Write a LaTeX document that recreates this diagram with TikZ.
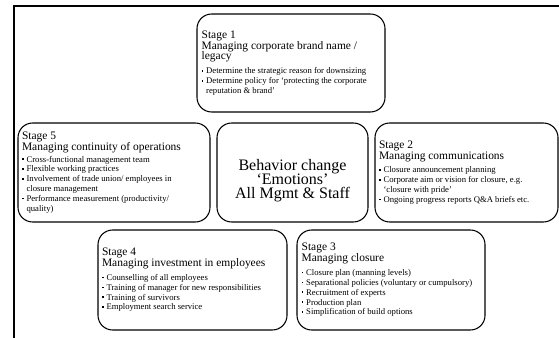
\documentclass[tikz,border=0pt]{standalone}
\usepackage{fontspec}
\setmainfont{Liberation Serif}
\usepackage{graphicx}

% text sizes used in the stage boxes
\newcommand\ttl{\fontsize{8.6}{8.1}\selectfont}
\newcommand\blt{\fontsize{6.5}{7.4}\selectfont}
\newlength\bw
\setlength\bw{3.4pt}
\newcommand\bmark{\makebox[\bw][l]{\raisebox{1.5pt}{\rule{1.3pt}{1.3pt}}}}
% a one-line bullet point
\newcommand\itm[1]{\par\noindent\bmark\mbox{#1}}
% a bullet point running over two lines, the second one indented
\newcommand\itmm[2]{\par\hangindent=\bw\hangafter=1\noindent\bmark\mbox{#1}\newline\mbox{#2}}

\begin{document}
\begin{tikzpicture}[x=0.75pt,y=-0.75pt,
  stagebox/.style={draw, line width=0.8pt, rounded corners=11pt,
    inner xsep=3.5pt, inner ysep=0pt, align=flush left, anchor=center},
  corebox/.style={draw, line width=0.8pt, rounded corners=11pt,
    inner sep=0pt, anchor=center},
  coretext/.style={align=center, inner sep=0pt,
    font=\fontsize{12}{10.6}\selectfont}]

\useasboundingbox (0,0) rectangle (559,338);

% slide frame
\draw[gray!55, line width=2.2pt] (14,338) -- (14,6) -- (559,6);
\draw[black, line width=1.1pt] (14,338) -- (14,6) -- (559,6);

% Stage 1
\node[stagebox, text width=134pt, minimum height=73.5pt] (s1) at (291,63)
 {\ttl Stage 1\\Managing corporate brand name /\\legacy\par
  \blt\vspace{3pt}%
  \itm{Determine the strategic reason for downsizing}
  \itmm{Determine policy for ‘protecting the corporate}{reputation \& brand’}\par};

% Stage 5
\node[stagebox, inner xsep=3pt, text width=138pt, minimum height=74.25pt] (s5) at (114,172.5)
 {\ttl Stage 5\\Managing continuity of operations\par
  \blt\vspace{1.5pt}%
  \itm{Cross-functional management team}
  \itm{Flexible working practices}
  \itmm{Involvement of trade union/ employees in}{closure management}
  \itmm{Performance measurement (productivity/}{quality)}\par};

% centre
\node[corebox, minimum width=113.25pt, minimum height=74.25pt] (core) at (292.5,172.5) {};
\node[coretext] (coretxt) at (292.5,181)
 {Behavior change\\‘Emotions’\\All Mgmt \& Staff};

% Stage 2
\node[stagebox, inner xsep=3pt, text width=131.25pt, minimum height=74.25pt] (s2) at (466.5,172.5)
 {\ttl Stage 2\\Managing communications\par
  \blt\vspace{3pt}%
  \itm{Closure announcement planning}
  \itmm{Corporate aim or vision for closure, e.g.}{‘closure with pride’}
  \itm{Ongoing progress reports Q\&A briefs etc.}\par};

% Stage 4
\node[stagebox, inner xsep=3pt, text width=135.75pt, minimum height=75pt] (s4) at (192.5,280)
 {\ttl Stage 4\\Managing investment in employees\par
  \blt\vspace{3pt}%
  \itm{Counselling of all employees}
  \itm{Training of manager for new responsibilities}
  \itm{Training of survivors}
  \itm{Employment search service}\par};

% Stage 3
\node[stagebox, text width=134pt, minimum height=75pt] (s3) at (391,280)
 {\ttl Stage 3\\Managing closure\par
  \blt\vspace{3pt}%
  \itm{Closure plan (manning levels)}
  \itm{Separational policies (voluntary or cumpulsory)}
  \itm{Recruitment of experts}
  \itm{Production plan}
  \itm{Simplification of build options}\par};

\end{tikzpicture}
\end{document}
